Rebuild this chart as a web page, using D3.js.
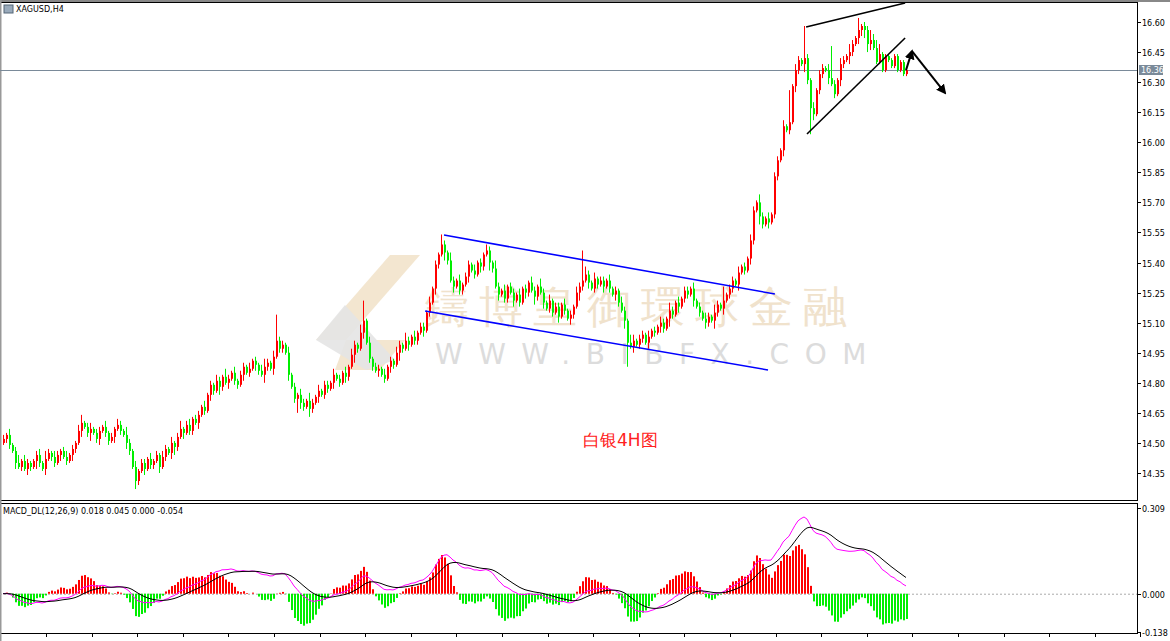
<!DOCTYPE html>
<html><head><meta charset="utf-8">
<script src="https://cdn.jsdelivr.net/npm/d3@7"></script>
<style>body{margin:0;background:#fff}svg{display:block}text{font-family:"DejaVu Sans",sans-serif}</style>
</head><body><svg id="c" width="1170" height="641"></svg>
<script>
// closes in cents above 14.00
const closes = [
52,54,49,46,40,38,41,37,40,38, 41,44,40,37,42,45,43,40,44,46, 43,41,44,47,50,56,60,58,55,57,
55,52,56,58,55,51,53,57,59,56, 54,50,46,38,31,36,40,37,42,39, 41,44,38,43,47,45,50,48,53,57,
55,59,56,62,60,64,68,66,74,79, 76,81,78,83,80,82,85,81,79,84, 88,85,87,91,89,86,84,88,90,87,
93,101,97,99,95,84,78,72,74,70, 68,71,67,70,73,76,74,79,77,80, 84,82,80,85,83,88,94,99,97,105,
111,100,92,88,86,87,84,82,88,91, 89,95,99,97,101,99,103,101,105,108, 106,115,120,127,139,144,149,145,141,131,
128,131,126,129,133,139,136,134,140,138, 144,146,140,137,128,124,126,122,128,125, 121,124,120,127,125,130,126,123,128,125,
120,117,121,115,118,113,119,116,112,114, 118,125,128,131,134,130,127,132,129,131, 128,131,127,124,126,120,116,111,100,98,
101,99,102,104,100,103,106,105,108,110, 107,112,116,114,120,118,122,126,124,127, 121,118,115,112,110,113,111,115,119,117,
121,124,127,131,129,135,138,136,142,151, 166,170,163,159,162,160,164,183,191,196, 208,206,210,228,236,241,239,242,231,217,
214,226,234,237,236,232,229,224,231,239, 241,243,245,249,252,256,258,256,249,251, 247,240,244,236,243,241,238,243,236,240,
234,236];
const firstOpen = 50;
const wickUpDigits = "21312413211231421321231213412312213121321421312213121321312412312213121321421312213121342131221312132142131221312131321421312213121321421312213121321421312213121321421312213121321421312213121321421312213121321431221312132142131221312132142131221312132142131221312132142131221312132142131225342";
const wickDnDigits = "12213121321421312213121321312412312213121321421312213121342131221312132142131221312132142131221312132142131221312132142131221312132142131221312132142131221312132142131221312132142131221312132142131221312132142131221312132142131221312132142131221312132142131221312132142131221312132142133443";
const highSpikes = [[91,114],[120,121],[146,154],[193,146],[240,128],[262,226],[267,258],[285,262],[276,248],[292,249]];
const lowSpikes = [[44,28],[208,88],[269,204],[98,65]];
const priceTicks = ["16.60","16.45","16.30","16.15","16.00","15.85","15.70","15.55","15.40","15.25","15.10","14.95","14.80","14.65","14.50","14.35"];
const macdTicks = ["0.309","0.000","-0.138"];
const currentPrice = 16.36;
const channelUpper = [[147,15.537],[257.3,15.243]];
const channelLower = [[140.7,15.158],[255,14.864]];
const wedgeUpper = [[267.7,16.575],[300.7,16.695]];
const wedgeLower = [[268,16.041],[300.7,16.520]];
const arrowSmall = [[301,16.36],[303,16.455]];
const arrowBig = [[303,16.455],[314,16.246]];

const candles = closes.map((c,i)=>{
  const o = i===0?firstOpen:closes[i-1];
  let h = Math.max(o,c)+(+wickUpDigits[i]||1);
  let l = Math.min(o,c)-(+wickDnDigits[i]||1);
  return {i,o:14+o/100,c:14+c/100,h:14+h/100,l:14+l/100};
});
highSpikes.forEach(([i,v])=>candles[i].h=Math.max(candles[i].h,14+v/100));
lowSpikes.forEach(([i,v])=>candles[i].l=Math.min(candles[i].l,14+v/100));

const svg = d3.select("#c");
const x = d3.scaleLinear().domain([0,301]).range([3,906]);
const y = d3.scaleLinear().domain([14.35,16.60]).range([473,22]);
const ym = d3.scaleLinear().domain([-0.138,0.309]).range([632,508]);

svg.append("rect").attr("x",0.5).attr("y",2.5).attr("width",1137).attr("height",498).attr("fill","none").attr("stroke","#000");
svg.append("rect").attr("x",0.5).attr("y",503.5).attr("width",1137).attr("height",130).attr("fill","none").attr("stroke","#000");
svg.append("line").attr("x1",0).attr("x2",1170).attr("y1",1).attr("y2",1).attr("stroke","#888").attr("stroke-width",2);
svg.append("line").attr("x1",0.5).attr("x2",0.5).attr("y1",0).attr("y2",641).attr("stroke","#999").attr("stroke-width",2);

const wm = svg.append("g");
wm.append("polygon").attr("points","316,340 390,255 420,255 346,340").attr("fill","#f0e0c4").attr("opacity",0.8);
wm.append("polygon").attr("points","346,340 405,340 380,370 335,370").attr("fill","#f0e0c4").attr("opacity",0.8);
wm.append("polygon").attr("points","316,340 345,305 395,360 366,370").attr("fill","#e4e4e4").attr("opacity",0.9);
wm.append("text").attr("x",425).attr("y",322).attr("font-size",44).attr("fill","#f0e2cc").attr("letter-spacing",10)
  .attr("font-family","Noto Sans CJK TC").text("鑄博皇御環球金融");
wm.append("text").attr("x",435).attr("y",364).attr("font-size",28).attr("fill","#dcdcdc").attr("letter-spacing",15.5).text("WWW.BIBFX.COM");

svg.append("line").attr("x1",0).attr("x2",1137).attr("y1",Math.round(y(currentPrice))+0.5).attr("y2",Math.round(y(currentPrice))+0.5).attr("stroke","#7a8a99");

const g = svg.append("g");
candles.forEach(d=>{
  const cx = Math.round(x(d.i));
  const col = d.c>=d.o? "#ff0000":"#00ee00";
  g.append("line").attr("x1",cx+0.5).attr("x2",cx+0.5).attr("y1",y(d.h)).attr("y2",y(d.l)).attr("stroke",col);
  const t=y(Math.max(d.o,d.c)), b=y(Math.min(d.o,d.c));
  g.append("rect").attr("x",cx).attr("y",t).attr("width",2).attr("height",Math.max(1,b-t)).attr("fill",col);
});

const line = d3.line().x(d=>x(d[0])).y(d=>y(d[1]));
[channelUpper,channelLower].forEach(p=>svg.append("path").attr("d",line(p)).attr("stroke","#0000ff").attr("stroke-width",1.6).attr("fill","none"));
[wedgeUpper,wedgeLower].forEach(p=>svg.append("path").attr("d",line(p)).attr("stroke","#000").attr("stroke-width",1.6).attr("fill","none"));
svg.append("defs").append("marker").attr("id","ah").attr("viewBox","0 0 10 10").attr("refX",8).attr("refY",5)
  .attr("markerWidth",5).attr("markerHeight",5).attr("orient","auto").append("path").attr("d","M0,0L10,5L0,10z").attr("fill","#000");
[arrowSmall,arrowBig].forEach(p=>svg.append("path").attr("d",line(p)).attr("stroke","#000").attr("stroke-width",2).attr("fill","none").attr("marker-end","url(#ah)"));

priceTicks.forEach(t=>{
  const yy=Math.round(y(+t))+0.5;
  svg.append("line").attr("x1",1137).attr("x2",1141).attr("y1",yy).attr("y2",yy).attr("stroke","#000");
  svg.append("text").attr("x",1142).attr("y",yy+3).attr("font-size",8).attr("fill","#000").text(t);
});
const cy=Math.round(y(currentPrice));
svg.append("rect").attr("x",1139).attr("y",cy-5).attr("width",24).attr("height",10).attr("fill","#7a8a99");
svg.append("text").attr("x",1141).attr("y",cy+3).attr("font-size",8).attr("fill","#fff").text(currentPrice.toFixed(2));

svg.append("rect").attr("x",4).attr("y",5).attr("width",9).attr("height",8).attr("fill","#9ab").attr("stroke","#567");
svg.append("text").attr("x",16).attr("y",12).attr("font-size",8).attr("fill","#000").text("XAGUSD,H4");
svg.append("text").attr("x",583).attr("y",446).attr("font-size",17).attr("fill","#ff2020").attr("font-family","Noto Sans CJK SC").text("白银4H图");

function ema(arr,n){const k=2/(n+1);let e=arr[0];return arr.map(v=>e=v*k+e*(1-k));}
const cl = candles.map(d=>d.c);
const e12=ema(cl,12), e26=ema(cl,26);
const macd = e12.map((v,i)=>v-e26[i]);
const sig = ema(macd,9);
const hist = macd.map((v,i)=>(v-sig[i])*3);
svg.append("line").attr("x1",0).attr("x2",1137).attr("y1",ym(0)+0.5).attr("y2",ym(0)+0.5).attr("stroke","#aaa").attr("stroke-dasharray","2,2");
hist.forEach((h,i)=>{
  const cx=Math.round(x(i));
  svg.append("rect").attr("x",cx).attr("width",2).attr("y",Math.min(ym(h),ym(0))).attr("height",Math.abs(ym(h)-ym(0))).attr("fill",h>=0?"#ff0000":"#00ee00");
});
const ml = d3.line().x((d,i)=>x(i)).y(d=>ym(d));
svg.append("path").attr("d",ml(macd)).attr("stroke","#ff00ff").attr("fill","none");
svg.append("path").attr("d",ml(sig)).attr("stroke","#000").attr("fill","none");
svg.append("text").attr("x",3).attr("y",514).attr("font-size",8).attr("fill","#000").text("MACD_DL(12,26,9) 0.018 0.045 0.000 -0.054");
macdTicks.forEach(t=>{
  const yy=Math.round(ym(+t))+0.5;
  svg.append("line").attr("x1",1137).attr("x2",1141).attr("y1",yy).attr("y2",yy).attr("stroke","#000");
  svg.append("text").attr("x",1142).attr("y",yy+3).attr("font-size",8).attr("fill","#000").text(t);
});
d3.range(0,25).forEach(k=>{const xx=Math.round(46+k*45.6)+0.5;
  svg.append("line").attr("x1",xx).attr("x2",xx).attr("y1",633).attr("y2",637).attr("stroke","#000");});
</script></body></html>
